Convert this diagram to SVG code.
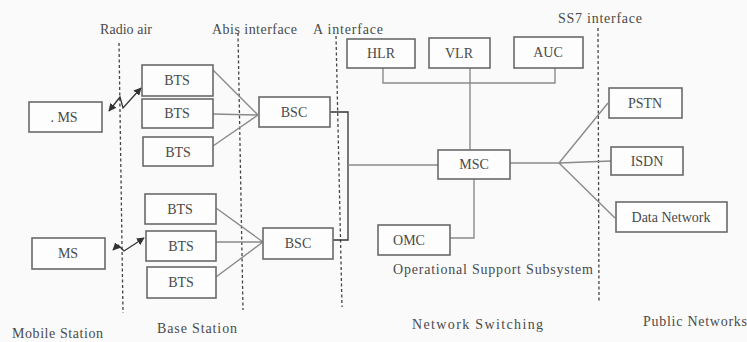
<svg xmlns="http://www.w3.org/2000/svg" width="747" height="342" viewBox="0 0 747 342">
<defs>
<style>
.box{fill:#fdfdfd;stroke:#6a6a6a;stroke-width:1.6}
text{font-family:'Liberation Serif','DejaVu Serif','Times New Roman',serif;fill:#4a4a4a}
.lbl{font-size:14px;text-anchor:middle}
.cap{font-size:14px}
.ln{fill:none;stroke:#8a8a8a;stroke-width:1.4}
.dk{fill:none;stroke:#333;stroke-width:1.3}
.dash{fill:none;stroke:#444;stroke-width:1.3;stroke-dasharray:3 2.5}
</style>
<marker id="ah" viewBox="0 0 10 10" refX="9" refY="5" markerWidth="6" markerHeight="6" orient="auto-start-reverse">
<path d="M0,0 L10,5 L0,10 z" fill="#333"/>
</marker>
</defs>
<rect width="747" height="342" fill="#fafafa"/>

<g id="interfaces">
<line class="dash" x1="119" y1="43" x2="123" y2="313"/>
<line class="dash" x1="238" y1="33" x2="243" y2="310"/>
<line class="dash" x1="336" y1="36" x2="342" y2="307"/>
<line class="dash" x1="598" y1="28" x2="599" y2="302"/>
<text class="cap" x="100" y="34" textLength="52">Radio air</text>
<text class="cap" x="212" y="34" textLength="85">Abis interface</text>
<text class="cap" x="313" y="34" textLength="70">A interface</text>
<text class="cap" x="558" y="23" textLength="84">SS7 interface</text>
</g>

<g id="connectors">
<path class="ln" d="M213,70 L258,115 M213,114 L258,115 M213,146 L258,115"/>
<path class="ln" d="M216,208 L263,242 M216,242 L263,242 M216,277 L263,242"/>
<path class="dk" d="M330,112 H348 V240 H333"/>
<path class="ln" d="M348,165 H438"/>
<path class="ln" d="M383,68 V83 H555 V68 M470,68 V150"/>
<path class="ln" d="M450,238 H474 V179"/>
<path class="ln" d="M510,163 H559 M559,163 L608,103 M559,163 L611,161 M559,163 L615,218"/>
<path class="dk" d="M109,111 L120,97 L123,108 L141,88" marker-start="url(#ah)" marker-end="url(#ah)"/>
<path class="dk" d="M113,250 L118,245 L124,251 L144,238" marker-start="url(#ah)" marker-end="url(#ah)"/>
</g>

<g id="ms1"><rect class="box" x="29" y="102" width="73" height="30"/><text class="lbl" x="64" y="122">. MS</text></g>
<g id="ms2"><rect class="box" x="32" y="238" width="73" height="31"/><text class="lbl" x="68" y="258">MS</text></g>

<g id="bts1"><rect class="box" x="142" y="65" width="71" height="31"/><text class="lbl" x="177" y="85">BTS</text></g>
<g id="bts2"><rect class="box" x="142" y="99" width="71" height="29"/><text class="lbl" x="177" y="118">BTS</text></g>
<g id="bts3"><rect class="box" x="143" y="137" width="70" height="29"/><text class="lbl" x="178" y="157">BTS</text></g>
<g id="bts4"><rect class="box" x="145" y="194" width="71" height="30"/><text class="lbl" x="180" y="214">BTS</text></g>
<g id="bts5"><rect class="box" x="146" y="231" width="70" height="30"/><text class="lbl" x="181" y="251">BTS</text></g>
<g id="bts6"><rect class="box" x="147" y="267" width="69" height="31"/><text class="lbl" x="181" y="287">BTS</text></g>

<g id="bsc1"><rect class="box" x="259" y="97" width="71" height="30"/><text class="lbl" x="294" y="117">BSC</text></g>
<g id="bsc2"><rect class="box" x="263" y="228" width="70" height="31"/><text class="lbl" x="298" y="248">BSC</text></g>

<g id="hlr"><rect class="box" x="347" y="39" width="68" height="29"/><text class="lbl" x="381" y="58">HLR</text></g>
<g id="vlr"><rect class="box" x="429" y="38" width="61" height="30"/><text class="lbl" x="459" y="58">VLR</text></g>
<g id="auc"><rect class="box" x="514" y="37" width="69" height="31"/><text class="lbl" x="548" y="57">AUC</text></g>

<g id="msc"><rect class="box" x="438" y="150" width="72" height="29"/><text class="lbl" x="474" y="169">MSC</text></g>
<g id="omc"><rect class="box" x="378" y="225" width="72" height="30"/><text class="lbl" x="409" y="245">OMC</text></g>

<g id="pstn"><rect class="box" x="609" y="88" width="73" height="30"/><text class="lbl" x="645" y="108">PSTN</text></g>
<g id="isdn"><rect class="box" x="611" y="147" width="72" height="28"/><text class="lbl" x="647" y="166">ISDN</text></g>
<g id="datanet"><rect class="box" x="616" y="202" width="111" height="30"/><text class="lbl" x="671" y="222">Data Network</text></g>

<g id="captions">
<text class="cap" x="393" y="274" textLength="200">Operational Support Subsystem</text>
<text class="cap" x="12" y="338" textLength="91">Mobile Station</text>
<text class="cap" x="157" y="333" textLength="80">Base Station</text>
<text class="cap" x="412" y="329" textLength="131">Network Switching</text>
<text class="cap" x="643" y="326" textLength="104">Public Networks</text>
</g>
</svg>
